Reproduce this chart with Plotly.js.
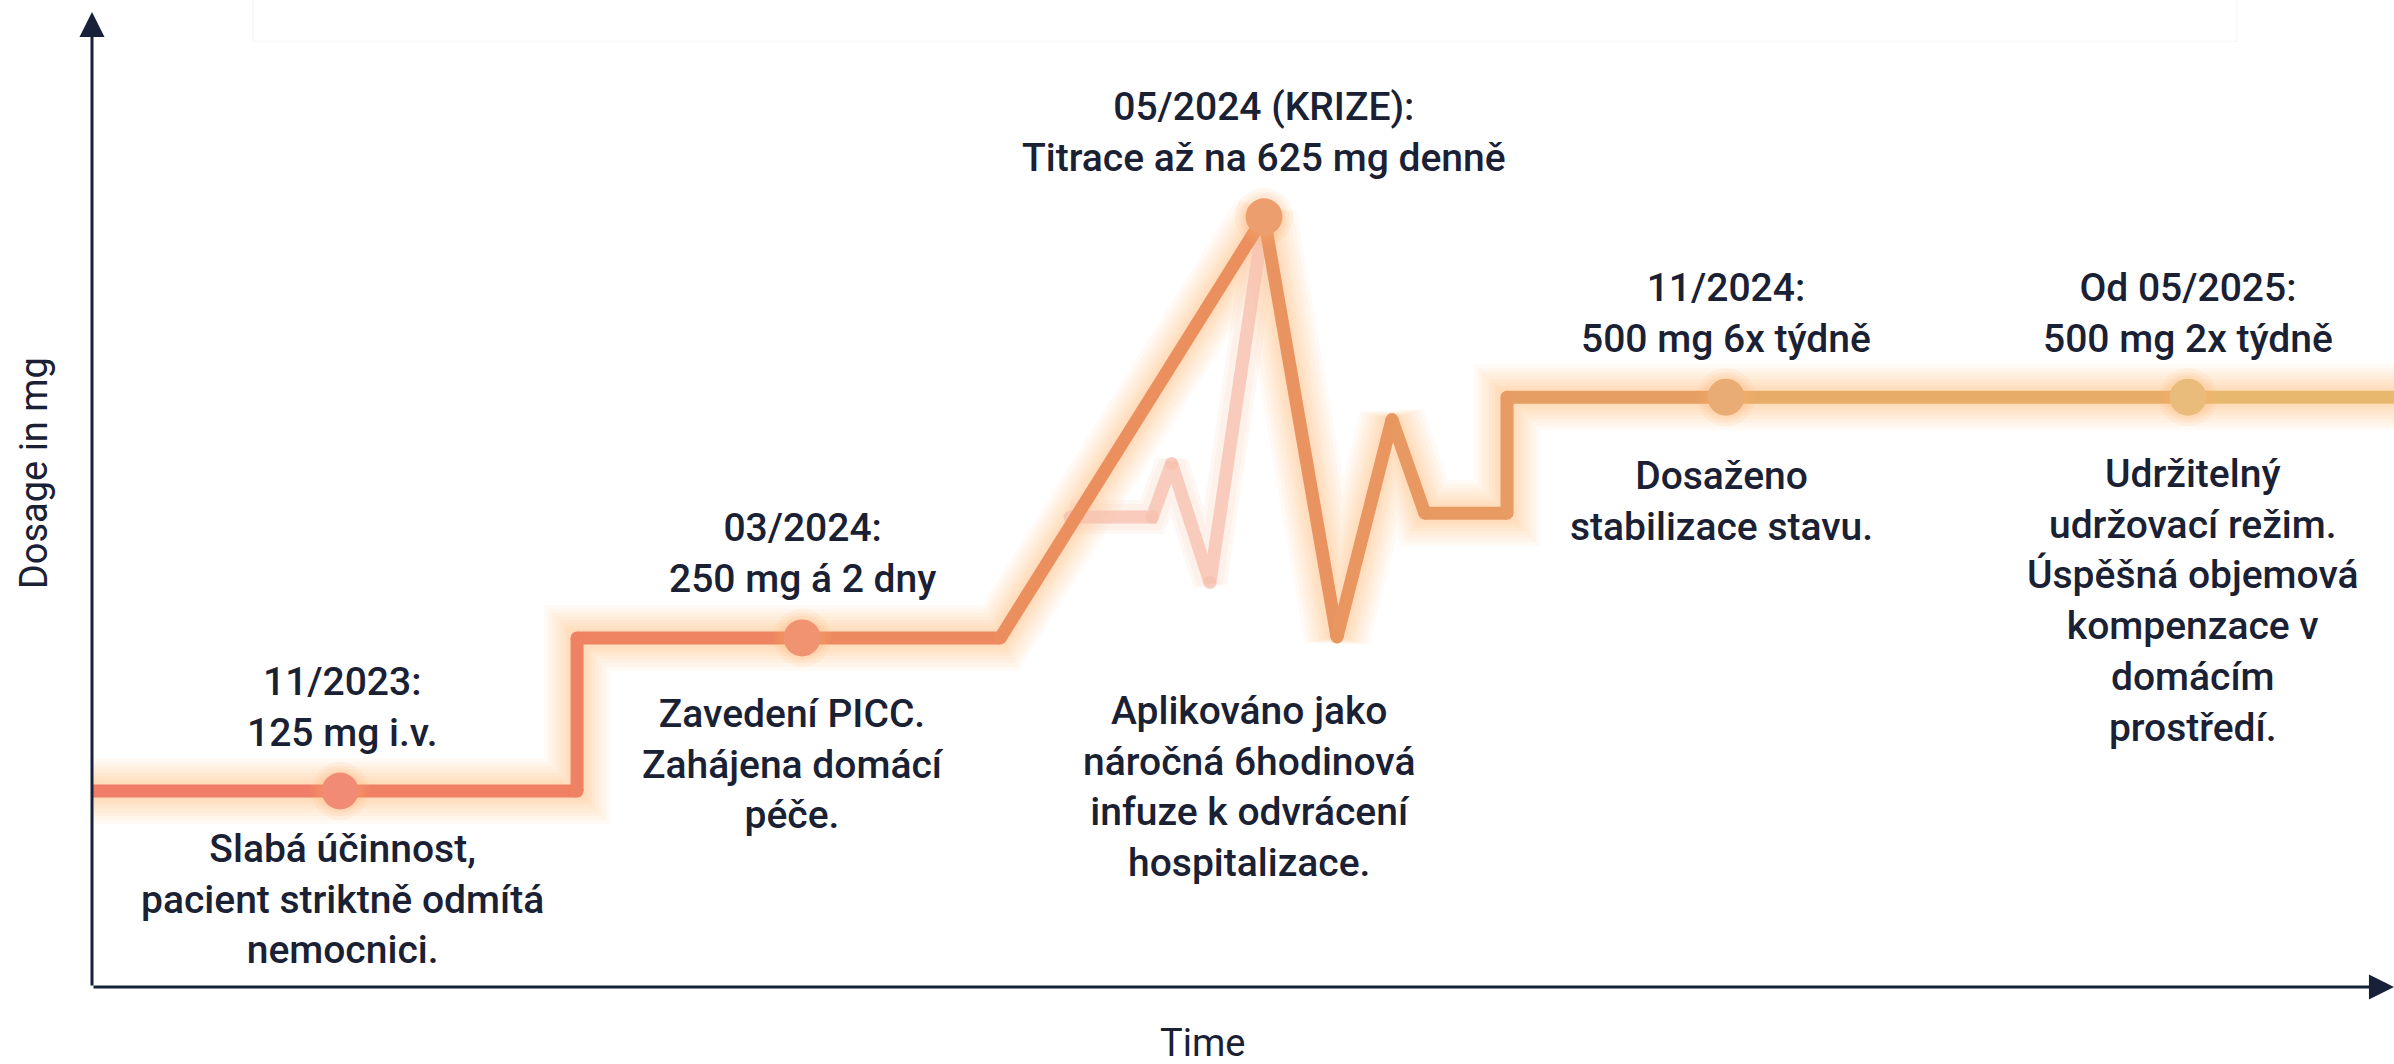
<!DOCTYPE html>
<html><head><meta charset="utf-8">
<script src="https://cdn.plot.ly/plotly-3.0.1.min.js"></script>
<style>html,body{margin:0;padding:0;background:#fff;} #chart{width:2394px;height:1064px;}</style>
</head><body><div id="chart"></div>
<script>
// ---- data (timeline position in event units, relative dosage level in % of axis height) ----
const pathX = [0.463, 1.00, 1.513, 1.513, 2.00, 2.429, 3.00, 3.158, 3.277, 3.348, 3.526, 3.526, 4.00, 5.00, 5.446];
const pathY = [20.1, 20.1, 20.1, 35.8, 35.8, 35.8, 79.0, 35.9, 58.2, 48.6, 48.6, 60.5, 60.5, 60.5, 60.5];
const echoX = [2.58, 2.758, 2.80, 2.883, 3.00];
const echoY = [48.2, 48.2, 53.7, 41.5, 79.0];
const eventX = [1, 2, 3, 4, 5];
const eventY = [20.1, 35.8, 79.0, 60.5, 60.5];
const eventTitles = [
  "11/2023:<br>125 mg i.v.",
  "03/2024:<br>250 mg á 2 dny",
  "05/2024 (KRIZE):<br>Titrace až na 625 mg denně",
  "11/2024:<br>500 mg 6x týdně",
  "Od 05/2025:<br>500 mg 2x týdně"
];
const eventNotes = [
  "Slabá účinnost,<br>pacient striktně odmítá<br>nemocnici.",
  "Zavedení PICC.<br>Zahájena domácí<br>péče.",
  "Aplikováno jako<br>náročná 6hodinová<br>infuze k odvrácení<br>hospitalizace.",
  "Dosaženo<br>stabilizace stavu.",
  "Udržitelný<br>udržovací režim.<br>Úspěšná objemová<br>kompenzace v<br>domácím<br>prostředí."
];
const xTitle = "Time";
const yTitle = "Dosage in mg";

// ---- styling ----
const XMIN = pathX[0], XMAX = pathX[pathX.length - 1];
const FONT = "Roboto, 'Noto Sans', sans-serif";
const TXT = "#1a2134";
const AXC = "#17213a";
const FS = 39;
const titleShift = [[2, 84], [0, 84], [0, 84], [0, 84], [0, 84]];
const noteShift = [[2, -108], [-9, -127], [-15, -570], [-4, -104], [5, -204]];

const stops = [[0, [240,123,105]], [0.22, [239,130,98]], [0.42, [235,141,94]], [0.55, [233,150,96]], [0.68, [230,160,100]], [0.85, [232,176,106]], [1, [232,188,112]]];
function grad(x) {
  const f = Math.max(0, Math.min(1, (x - XMIN) / (XMAX - XMIN)));
  for (let i = 1; i < stops.length; i++) {
    if (f <= stops[i][0]) {
      const a = stops[i-1], b = stops[i];
      const t = (f - a[0]) / (b[0] - a[0]);
      return a[1].map((v, k) => Math.round(v + (b[1][k] - v) * t));
    }
  }
  return stops[stops.length-1][1];
}
const rgb = c => `rgb(${c[0]},${c[1]},${c[2]})`;
const light = (c, w) => c.map(v => Math.round(v + (255 - v) * w));

const traces = [];
// soft glow layers of the main path
[66, 58, 50, 43, 36, 30, 24, 19].forEach(w => {
  traces.push({x: pathX, y: pathY, mode: 'lines', line: {color: 'rgba(252,176,110,0.065)', width: w},
    hoverinfo: 'skip', cliponaxis: false});
});
// faint echo line
[34, 26].forEach(w => traces.push({x: echoX, y: echoY, mode: 'lines', line: {color: 'rgba(250,195,165,0.12)', width: w}, hoverinfo: 'skip'}));
traces.push({x: echoX, y: echoY, mode: 'lines', line: {color: 'rgba(246,192,174,0.78)', width: 13}, hoverinfo: 'skip'});
traces.push({x: echoX, y: echoY, mode: 'markers', marker: {color: 'rgba(246,192,174,0.78)', size: 13}, hoverinfo: 'skip'});
// main path segments, coloured along the timeline
for (let i = 0; i < pathX.length - 1; i++) {
  const c = grad((pathX[i] + pathX[i+1]) / 2);
  traces.push({x: [pathX[i], pathX[i+1]], y: [pathY[i], pathY[i+1]], mode: 'lines',
    line: {color: rgb(c), width: 13}, hoverinfo: 'skip', cliponaxis: false});
}
// rounded joints
traces.push({x: pathX.slice(1, -1), y: pathY.slice(1, -1), mode: 'markers',
  marker: {color: pathX.slice(1, -1).map(x => rgb(grad(x))), size: 13}, hoverinfo: 'skip'});
// event dots with halo
[58, 50, 44].forEach(s => traces.push({x: eventX, y: eventY, mode: 'markers', marker: {color: 'rgba(252,180,110,0.10)', size: s}, hoverinfo: 'skip'}));
traces.push({x: eventX, y: eventY, mode: 'markers',
  marker: {color: eventX.map(x => rgb(light(grad(x), 0.1))), size: 37}, hoverinfo: 'skip'});

const annotations = [];
const tfont = {family: FONT, size: FS, color: TXT, weight: 500};
eventX.forEach((x, i) => {
  annotations.push({x: x, y: eventY[i], xref: 'x', yref: 'y', text: eventTitles[i], showarrow: false,
    xanchor: 'center', yanchor: 'middle', align: 'center', xshift: titleShift[i][0], yshift: titleShift[i][1],
    font: tfont});
  annotations.push({x: x, y: eventY[i], xref: 'x', yref: 'y', text: eventNotes[i], showarrow: false,
    xanchor: 'center', yanchor: 'middle', align: 'center', xshift: noteShift[i][0], yshift: noteShift[i][1],
    font: tfont});
});
// axes drawn as arrows
annotations.push({x: XMIN, y: 100, ax: XMIN, ay: 0, xref: 'x', yref: 'y', axref: 'x', ayref: 'y', text: '',
  showarrow: true, arrowhead: 2, arrowsize: 1.67, arrowwidth: 3, arrowcolor: AXC});
annotations.push({x: XMAX, y: 0, ax: XMIN, ay: 0, xref: 'x', yref: 'y', axref: 'x', ayref: 'y', text: '',
  showarrow: true, arrowhead: 2, arrowsize: 1.67, arrowwidth: 3, arrowcolor: AXC});
// axis titles
annotations.push({x: 0.4826, y: 0, xref: 'paper', yref: 'paper', yshift: -56, text: xTitle, showarrow: false,
  xanchor: 'center', yanchor: 'middle', font: {family: FONT, size: 38, color: TXT, weight: 400}});
annotations.push({x: 0, y: 0.527, xref: 'paper', yref: 'paper', xshift: -58, text: yTitle, showarrow: false,
  textangle: -90, xanchor: 'center', yanchor: 'middle', font: {family: FONT, size: 38, color: TXT, weight: 400}});

const layout = {
  width: 2394, height: 1064,
  margin: {l: 92, r: 0, t: 12, b: 77},
  paper_bgcolor: '#ffffff', plot_bgcolor: '#ffffff',
  showlegend: false,
  xaxis: {range: [XMIN, XMAX], visible: false, fixedrange: true},
  yaxis: {range: [0, 100], visible: false, fixedrange: true},
  annotations: annotations,
  shapes: [{type: 'rect', xref: 'paper', yref: 'paper', x0: 0.0699, x1: 0.9318, y0: 0.97, y1: 1.05,
    line: {color: 'rgba(235,237,240,0.6)', width: 1}, fillcolor: 'rgba(0,0,0,0)', layer: 'below'}]
};
Plotly.newPlot('chart', traces, layout, {staticPlot: true, displayModeBar: false});
</script>
</body></html>
